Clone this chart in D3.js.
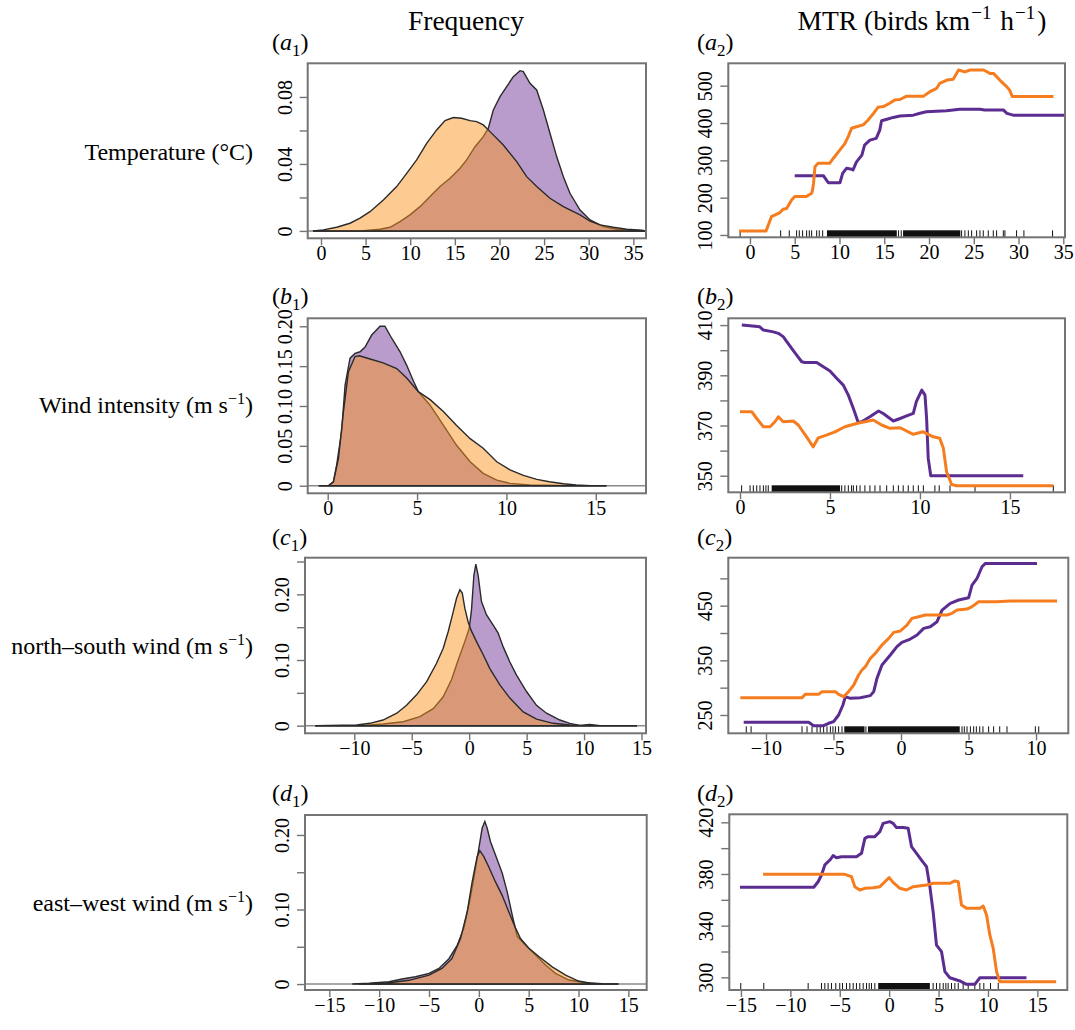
<!DOCTYPE html>
<html>
<head>
<meta charset="utf-8">
<title>Frequency and MTR partial dependence</title>
<script src="https://cdn.jsdelivr.net/npm/d3@7"></script>
<style>
  body { margin: 0; background: #fff; }
  text { font-family: "Liberation Serif", "Times New Roman", serif; fill: #000; }
</style>
</head>
<body>
<svg id="fig" width="1075" height="1030"></svg>
<script>
// ---- data ----
// left column: density curves [x, density]
var freqTempOrange = [[-0.9,0],[0.26,0.0006],[1.76,0.0022],[3.25,0.0046],[4.37,0.0076],[5.49,0.0115],[6.99,0.0185],[8.48,0.0265],[9.6,0.0344],[10.72,0.0424],[11.84,0.0523],[12.96,0.0603],[13.9,0.0659],[14.83,0.0677],[15.76,0.0673],[16.7,0.0659],[17.44,0.0653],[18.19,0.0633],[18.94,0.0593],[20.43,0.0513],[21.93,0.0414],[23.05,0.0324],[24.17,0.0265],[25.66,0.0195],[27.16,0.0145],[29.03,0.0096],[30.15,0.0058],[31.27,0.0036],[32.76,0.0022],[34.26,0.001],[35.94,0.0004],[36.4,0]];
var freqTempPurple = [[-0.9,0],[4.74,0.0002],[6.61,0.001],[7.73,0.0022],[8.85,0.0056],[9.97,0.0096],[11.09,0.0145],[12.22,0.0205],[13.34,0.0265],[14.46,0.0314],[15.58,0.0374],[16.32,0.0424],[17.26,0.0503],[18.19,0.0563],[18.75,0.0613],[19.31,0.0722],[20.06,0.0802],[20.81,0.0862],[21.55,0.0921],[22.3,0.0957],[22.67,0.0951],[23.42,0.0882],[24.17,0.0842],[24.92,0.0722],[25.66,0.0583],[26.41,0.0444],[27.16,0.0324],[27.9,0.0225],[29.03,0.0125],[30.15,0.0066],[31.64,0.0026],[33.13,0.001],[34.63,0.0004],[36.4,0]];

var freqWindOrange = [[-0.5,0],[0.04,0],[0.32,0.005],[0.6,0.034],[0.88,0.093],[1.16,0.143],[1.53,0.162],[1.77,0.163],[2.37,0.159],[3.1,0.154],[3.86,0.147],[4.42,0.135],[5.07,0.118],[5.73,0.108],[6.47,0.093],[7.2,0.076],[7.97,0.059],[8.7,0.047],[9.46,0.03],[10.2,0.02],[10.95,0.013],[11.7,0.008],[12.4,0.005],[13.2,0.0025],[13.9,0.001],[14.7,0],[15.6,0]];
var freqWindPurple = [[-0.5,0],[0.04,0],[0.32,0.005],[0.5,0.026],[0.78,0.068],[0.97,0.126],[1.25,0.16],[1.53,0.166],[1.81,0.168],[2.09,0.174],[2.46,0.189],[2.93,0.2],[3.2,0.2],[3.58,0.185],[4.05,0.168],[4.42,0.151],[4.8,0.131],[5.07,0.118],[5.73,0.101],[6.47,0.076],[7.2,0.051],[7.97,0.03],[8.7,0.0155],[9.46,0.007],[10.2,0.003],[11.3,0.001],[13.6,0],[15.6,0]];

var freqNsOrange = [[-13.4,0],[-9.8,0.001],[-8.64,0.0036],[-7.5,0.0086],[-6.3,0.019],[-5.45,0.031],[-4.58,0.047],[-3.7,0.067],[-2.84,0.095],[-2.26,0.118],[-1.83,0.143],[-1.45,0.169],[-1.1,0.194],[-0.81,0.207],[-0.6,0.202],[-0.38,0.179],[-0.09,0.158],[0.2,0.144],[0.64,0.128],[1.22,0.108],[1.8,0.087],[2.67,0.062],[3.54,0.042],[4.7,0.021],[5.86,0.01],[7.3,0.0036],[8.76,0.001],[9.9,0],[14.6,0]];
var freqNsPurple = [[-13.4,0],[-9.2,0.0005],[-7.5,0.0025],[-5.74,0.006],[-4.29,0.0137],[-3.13,0.026],[-2.26,0.044],[-1.54,0.07],[-0.96,0.1],[-0.38,0.128],[0,0.148],[0.2,0.176],[0.41,0.229],[0.58,0.246],[0.78,0.229],[1.07,0.189],[1.5,0.169],[2.09,0.153],[2.52,0.141],[2.96,0.12],[3.54,0.097],[4.12,0.077],[4.99,0.052],[5.86,0.031],[6.73,0.019],[7.9,0.0086],[8.76,0.0036],[9.63,0.0005],[10.5,0.002],[11.4,0],[14.6,0]];

var freqEwOrange = [[-12,0],[-9.4,0.001],[-7,0.005],[-5,0.012],[-3.7,0.021],[-2.7,0.034],[-1.84,0.061],[-1.17,0.097],[-0.67,0.137],[-0.17,0.171],[0.1,0.179],[0.5,0.171],[1,0.157],[1.67,0.137],[2.34,0.119],[3,0.097],[3.68,0.075],[4.18,0.061],[5.02,0.048],[6.02,0.037],[7.36,0.023],[8.7,0.012],[10,0.004],[11.2,0.001],[12,0],[14,0]];
var freqEwPurple = [[-12.7,0],[-11,0.001],[-9,0.003],[-7.7,0.0067],[-6.35,0.0098],[-5,0.0143],[-4,0.021],[-3,0.034],[-2.17,0.052],[-1.5,0.075],[-1,0.106],[-0.5,0.142],[0,0.182],[0.33,0.209],[0.6,0.218],[0.84,0.209],[1.17,0.191],[1.67,0.173],[2.34,0.149],[2.84,0.124],[3.34,0.093],[3.85,0.064],[4.68,0.052],[5.69,0.039],[6.69,0.0255],[7.7,0.0143],[9.03,0.0054],[10.7,0.0018],[12.4,0.0004],[14,0]];

// right column: MTR response [x, birds km-1 h-1]
var mtrTempOrange = [[-1.2,111],[1.8,111],[2.4,149],[3.35,160],[3.7,169],[4.1,171],[4.65,194],[5.0,203],[6.3,203],[6.9,212],[7.0,222],[7.1,238],[7.26,283],[7.6,292],[8.9,292],[9.3,305],[10.05,328],[10.6,345],[11.0,365],[11.35,386],[11.9,390],[12.65,395],[13.2,408],[13.8,426],[14.3,442],[14.9,444],[15.6,453],[16.2,462],[16.75,463],[17.5,472],[19.4,472],[20.1,484],[20.85,493],[21.2,506],[22.0,515],[22.7,517],[23.3,542],[24.0,537],[24.6,542],[26.1,542],[26.8,533],[27.2,533],[27.9,515],[28.7,497],[29.0,488],[29.3,471],[33.9,471]];
var mtrTempPurple = [[5.0,259],[8.2,259],[8.75,240],[10.05,240],[10.35,265],[10.8,279],[11.35,276],[11.5,274],[11.9,296],[12.5,314],[12.8,341],[13.4,354],[14.1,359],[14.5,381],[14.7,406],[15.3,410],[16.0,415],[16.75,419],[18.25,421],[19.0,426],[19.7,430],[21.95,433],[22.7,435],[23.4,437],[25.7,437],[26.2,435],[28.3,435],[28.7,426],[29.4,421],[35.2,421]];

var mtrWindOrange = [[0,375.5],[0.65,375.5],[0.93,372.8],[1.3,369.5],[1.67,369.5],[1.94,371.5],[2.13,373.5],[2.4,371.5],[2.96,371.8],[3.24,370.2],[3.7,365.5],[4.07,361.5],[4.35,365.1],[4.8,366.2],[5.28,367.5],[5.83,369.5],[6.48,370.8],[7.4,372.2],[7.87,370.2],[8.33,368.9],[8.9,369.1],[9.63,366.5],[10.18,367.5],[10.74,365.5],[11.1,364.9],[11.3,360.9],[11.48,351.6],[11.76,346.5],[12.04,346],[17.4,346]];
var mtrWindPurple = [[0.1,410],[0.55,409.7],[1.1,409.3],[1.3,408],[1.85,407.3],[2.13,406.7],[2.4,405.4],[2.6,403.4],[2.87,400.7],[3.15,398],[3.43,395.4],[3.6,395.1],[4.26,395.1],[4.63,393.4],[5.0,391.7],[5.37,388.8],[5.74,386.1],[6.02,382.1],[6.3,376.8],[6.57,371.2],[6.76,371.5],[7.22,373.5],[7.7,375.8],[7.96,374.8],[8.52,371.8],[8.9,372.8],[9.26,373.8],[9.63,374.8],[9.8,379.5],[10.1,384.1],[10.28,382.1],[10.37,372.8],[10.46,356.9],[10.6,350],[15.74,350]];

var mtrNsOrange = [[-11.9,281.7],[-7.33,281.7],[-7.09,287.8],[-6.1,287.8],[-5.85,292.7],[-4.86,292.7],[-4.62,287.8],[-4.25,283.5],[-3.88,292.7],[-3.5,304.9],[-3.14,323.2],[-2.89,332.3],[-2.64,338.4],[-2.27,353.7],[-1.9,362.8],[-1.41,378],[-0.91,390.2],[-0.54,401.2],[-0.05,403.7],[0.44,414.6],[0.81,426.8],[1.31,429.9],[1.8,432.9],[3.4,432.9],[3.78,436],[4.15,442],[4.89,443.9],[5.26,448.2],[5.75,457.3],[7.1,457.3],[8.1,458.5],[11.56,458.5]];
var mtrNsPurple = [[-11.65,236.6],[-6.84,236.6],[-6.47,230.5],[-5.73,230.5],[-5.36,234.8],[-4.99,237.8],[-4.62,250],[-4.3,268.3],[-4.12,283.5],[-3.75,280.5],[-3.01,281.7],[-2.27,285.4],[-2.02,292.7],[-1.78,317],[-1.41,341.5],[-0.79,359.8],[-0.3,375],[0.07,383],[0.69,389],[1.19,396.3],[1.68,408.5],[2.17,411.6],[2.67,420.7],[3.04,442],[3.65,454.3],[4.27,460.4],[5.01,464.6],[5.26,487.8],[5.63,500],[6.0,521.3],[6.25,527.4],[10.07,527.4]];

var mtrEwOrange = [[-12.76,379.7],[-4.49,379.7],[-3.81,377.9],[-3.48,370.2],[-2.97,367.6],[-2.46,368.9],[-1.62,369.4],[-0.94,370.2],[-0.44,374],[0,377.2],[0.4,373.5],[1.08,368.9],[1.75,367.6],[2.43,370.2],[3.78,371.5],[4.45,372.8],[6.14,372.8],[6.65,374.6],[6.99,374],[7.32,356],[7.83,353.4],[9.18,353.4],[9.52,355.2],[9.86,348.3],[10.19,332.8],[10.53,322.5],[10.87,304.4],[11.2,296.6],[16.9,296.6]];
var mtrEwPurple = [[-15.1,369.7],[-7.63,369.7],[-7.19,374],[-6.85,379.2],[-6.51,387],[-6.0,390.8],[-5.67,394.2],[-5.33,392.6],[-4.83,393.4],[-3.31,393.4],[-2.8,396],[-2.46,407.6],[-2.13,408.9],[-1.45,408.9],[-0.94,412.8],[-0.61,419.2],[0.07,420.5],[0.4,419.2],[0.74,415.9],[1.42,415.9],[1.92,415.4],[2.26,401.2],[2.77,396],[3.27,390.8],[3.78,385.7],[4.12,370.2],[4.45,350.8],[4.79,325],[5.3,319.9],[5.64,304.4],[6.14,299.7],[7.15,297.2],[7.83,294.6],[8.67,294.6],[9.18,299.7],[13.9,299.7]];

// rug marks: single observations and solid dense stretches
var rugTemp = [-1.1,3.43,4.39,5.21,5.51,5.88,6.33,6.63,6.89,7.45,7.74,8.12,16.6,16.9,23.64,24.01,24.39,24.76,25.32,25.69,26.06,26.62,27.18,27.55,28.3,28.48,29.78,30.6,33.8];
var rugTempDense = [[8.6,16.4],[17.1,23.5]];
var rugWind = [0.09,0.56,0.74,0.93,1.11,1.3,1.44,1.57,5.65,5.83,6.02,6.2,6.3,6.48,6.67,6.94,7.22,7.5,7.78,8.15,8.52,8.8,9.07,9.35,9.63,9.91,10.19,10.83,11.07,11.67,13.06,17.41];
var rugWindDense = [[1.76,5.56]];
var rugNs = [-11.46,-11.1,-7.33,-6.96,-6.59,-6.22,-5.98,-5.73,-5.48,-5.23,-5.04,-4.86,-4.62,-4.37,-2.6,4.52,4.69,4.89,5.14,5.38,5.58,5.83,6.07,6.49,6.86,7.31,7.85,9.95,10.2];
var rugNsDense = [[-4.2,-2.7],[-2.45,4.35]];
var rugEw = [-15.02,-12.69,-8.2,-6.85,-6.51,-6.18,-5.84,-5.4,-5.0,-4.72,-4.32,-3.98,-3.64,-3.31,-2.97,-2.63,-2.29,-2.02,-1.79,-1.45,4.45,4.79,5.13,5.47,5.74,5.97,6.31,6.65,6.99,7.49,8.0,8.67,9.18,9.58,10.26,11.04];
var rugEwDense = [[-1.11,4.12]];

// tick values and labels
var ticksTempX = [0,5,10,15,20,25,30,35];
var ticksWindX = [0,5,10,15];
var ticksNsFreqX = [-10,-5,0,5,10,15];
var ticksNsMtrX = [-10,-5,0,5,10];
var ticksEwX = [-15,-10,-5,0,5,10,15];

var ticksFreqTempY = [0,0.02,0.04,0.06,0.08];
var labelsFreqTempY = ["0","","0.04","","0.08"];
var ticksFreqWindY = [0,0.05,0.10,0.15,0.20];
var labelsFreqWindY = ["0","0.05","0.10","0.15","0.20"];
var ticksFreqNsY = [0,0.05,0.10,0.15,0.20,0.25];
var labelsFreqNsY = ["0","","0.10","","0.20",""];
var ticksFreqEwY = [0,0.05,0.10,0.15,0.20];
var labelsFreqEwY = ["0","","0.10","","0.20"];

var ticksMtrTempY = [100,200,300,400,500];
var labelsMtrTempY = ["100","200","300","400","500"];
var ticksMtrWindY = [350,360,370,380,390,400,410];
var labelsMtrWindY = ["350","","370","","390","","410"];
var ticksMtrNsY = [250,300,350,400,450,500];
var labelsMtrNsY = ["250","","350","","450",""];
var ticksMtrEwY = [300,320,340,360,380,400,420];
var labelsMtrEwY = ["300","","340","","380","","420"];

var rowNames = ["Temperature (\u00B0C)", "Wind intensity (m s", "north\u2013south wind (m s", "east\u2013west wind (m s"];
var rowLetters = ["a", "b", "c", "d"];

// ---- drawing ----
var svg = d3.select("#fig");
var serif = "'Liberation Serif', 'Times New Roman', serif";
var boxColor = "#747474";
var purpleFill = "#b99bcc", orangeFill = "#fb941f";
var purpleLine = "#5c2d91", orangeLine = "#f57d1f";

function fmtX(d) { return d < 0 ? "\u2212" + Math.abs(d) : String(d); }

function frame(p, id) {
    var x = d3.scaleLinear().domain(p.xDom).range([p.left, p.right]);
    var y = d3.scaleLinear().domain(p.yDom).range([p.bottom, p.top]);
    var g = svg.append("g");
    g.append("clipPath").attr("id", id)
        .append("rect")
        .attr("x", p.left).attr("y", p.top)
        .attr("width", p.right - p.left).attr("height", p.bottom - p.top);
    return {x: x, y: y, g: g, clip: "url(#" + id + ")"};
}

function axes(f, p) {
    var ax = f.g.append("g")
        .attr("transform", "translate(0," + p.bottom + ")")
        .call(d3.axisBottom(f.x).tickValues(p.xTicks).tickSize(7).tickPadding(1).tickFormat(fmtX))
        .attr("font-family", serif).attr("font-size", 20);
    ax.select(".domain").remove();
    ax.selectAll("line").attr("stroke", boxColor).attr("stroke-width", 1.4);
    ax.selectAll("text").attr("fill", "#000");

    var ay = f.g.append("g")
        .attr("transform", "translate(" + p.left + ",0)")
        .call(d3.axisLeft(f.y).tickValues(p.yTicks).tickSize(8)
            .tickFormat(function(d, i) { return p.yLabels[i]; }))
        .attr("font-family", serif).attr("font-size", 20);
    ay.select(".domain").remove();
    ay.selectAll("line").attr("stroke", boxColor).attr("stroke-width", 1.4);
    ay.selectAll("text")
        .attr("fill", "#000")
        .attr("x", null).attr("dy", null)
        .attr("text-anchor", "middle")
        .attr("transform", "translate(-16,0) rotate(-90)");

    f.g.append("rect")
        .attr("x", p.left).attr("y", p.top)
        .attr("width", p.right - p.left).attr("height", p.bottom - p.top)
        .attr("fill", "none").attr("stroke", boxColor).attr("stroke-width", 2);
}

function drawDensity(p, id) {
    var f = frame(p, id);
    var area = d3.area()
        .x(function(d) { return f.x(d[0]); })
        .y0(f.y(0))
        .y1(function(d) { return f.y(d[1]); });
    var inner = f.g.append("g").attr("clip-path", f.clip);
    inner.append("line")
        .attr("x1", p.left).attr("x2", p.right)
        .attr("y1", f.y(0)).attr("y2", f.y(0))
        .attr("stroke", "#8a8a8a").attr("stroke-width", 1.6);
    inner.append("path").datum(p.purple).attr("d", area)
        .attr("fill", purpleFill).attr("stroke", "#2a2a2a").attr("stroke-width", 1.4);
    inner.append("path").datum(p.orange).attr("d", area)
        .attr("fill", orangeFill).attr("fill-opacity", 0.49)
        .attr("stroke", "#2a2a2a").attr("stroke-width", 1.4);
    axes(f, p);
}

function drawMtr(p, id) {
    var f = frame(p, id);
    var line = d3.line()
        .x(function(d) { return f.x(d[0]); })
        .y(function(d) { return f.y(d[1]); });
    var inner = f.g.append("g").attr("clip-path", f.clip);
    inner.selectAll("line.rug").data(p.rug).enter().append("line")
        .attr("x1", function(d) { return f.x(d); })
        .attr("x2", function(d) { return f.x(d); })
        .attr("y1", p.bottom).attr("y2", p.bottom - 7)
        .attr("stroke", "#111").attr("stroke-width", 1);
    inner.selectAll("rect.rug").data(p.dense).enter().append("rect")
        .attr("x", function(d) { return f.x(d[0]); })
        .attr("width", function(d) { return f.x(d[1]) - f.x(d[0]); })
        .attr("y", p.bottom - 7).attr("height", 7)
        .attr("fill", "#111");
    inner.append("path").datum(p.purple).attr("d", line)
        .attr("fill", "none").attr("stroke", purpleLine)
        .attr("stroke-width", 3).attr("stroke-linejoin", "round");
    inner.append("path").datum(p.orange).attr("d", line)
        .attr("fill", "none").attr("stroke", orangeLine)
        .attr("stroke-width", 3).attr("stroke-linejoin", "round");
    axes(f, p);
}

var left = [
    {left: 307.7, right: 646, top: 63.3, bottom: 238.3, xDom: [-1.49, 36.42], yDom: [-0.0044, 0.1001],
     xTicks: ticksTempX, yTicks: ticksFreqTempY, yLabels: labelsFreqTempY, orange: freqTempOrange, purple: freqTempPurple},
    {left: 307.7, right: 646, top: 318.3, bottom: 493.3, xDom: [-1.12, 17.81], yDom: [-0.0095, 0.21],
     xTicks: ticksWindX, yTicks: ticksFreqWindY, yLabels: labelsFreqWindY, orange: freqWindOrange, purple: freqWindPurple},
    {left: 305, right: 646, top: 557.7, bottom: 733.3, xDom: [-14.29, 15.39], yDom: [-0.0116, 0.2558],
     xTicks: ticksNsFreqX, yTicks: ticksFreqNsY, yLabels: labelsFreqNsY, orange: freqNsOrange, purple: freqNsPurple},
    {left: 305, right: 646.7, top: 815, bottom: 990, xDom: [-17.44, 16.84], yDom: [-0.008, 0.2268],
     xTicks: ticksEwX, yTicks: ticksFreqEwY, yLabels: labelsFreqEwY, orange: freqEwOrange, purple: freqEwPurple}
];
var right = [
    {left: 728.3, right: 1065, top: 63.3, bottom: 237.3, xDom: [-2.42, 35.19], yDom: [93.8, 560],
     xTicks: ticksTempX, yTicks: ticksMtrTempY, yLabels: labelsMtrTempY, orange: mtrTempOrange, purple: mtrTempPurple,
     rug: rugTemp, dense: rugTempDense},
    {left: 728.3, right: 1065, top: 318.3, bottom: 492.3, xDom: [-0.65, 18.06], yDom: [343.4, 412.7],
     xTicks: ticksWindX, yTicks: ticksMtrWindY, yLabels: labelsMtrWindY, orange: mtrWindOrange, purple: mtrWindPurple,
     rug: rugWind, dense: rugWindDense},
    {left: 728.3, right: 1068.3, top: 557.7, bottom: 733.3, xDom: [-12.79, 12.39], yDom: [216.5, 537.8],
     xTicks: ticksNsMtrX, yTicks: ticksMtrNsY, yLabels: labelsMtrNsY, orange: mtrNsOrange, purple: mtrNsPurple,
     rug: rugNs, dense: rugNsDense},
    {left: 729.3, right: 1067.3, top: 814.3, bottom: 990, xDom: [-16.18, 18.03], yDom: [290.2, 426.2],
     xTicks: ticksEwX, yTicks: ticksMtrEwY, yLabels: labelsMtrEwY, orange: mtrEwOrange, purple: mtrEwPurple,
     rug: rugEw, dense: rugEwDense}
];

left.forEach(function(p, i) { drawDensity(p, "clipL" + i); });
right.forEach(function(p, i) { drawMtr(p, "clipR" + i); });

// panel letters like (a1), (a2)
var letterY = [50, 304, 545, 801];
function panelLetter(x, y, letter, n) {
    var t = svg.append("text").attr("x", x).attr("y", y).attr("font-size", 24);
    t.append("tspan").text("(");
    t.append("tspan").attr("font-style", "italic").text(letter);
    t.append("tspan").attr("font-size", 17).attr("dy", 6).text(n);
    t.append("tspan").attr("dy", -6).text(")");
}
rowLetters.forEach(function(l, i) {
    panelLetter(272, letterY[i], l, "1");
    panelLetter(697, letterY[i], l, "2");
});

// row labels
var rowY = [160, 413, 654, 911];
rowNames.forEach(function(name, i) {
    var t = svg.append("text").attr("x", 253).attr("y", rowY[i])
        .attr("font-size", 24).attr("text-anchor", "end");
    t.append("tspan").text(name);
    if (i > 0) {
        t.append("tspan").attr("font-size", 16).attr("dy", -9).text("\u22121");
        t.append("tspan").attr("dy", 9).text(")");
    }
});

// column titles
svg.append("text").attr("x", 466).attr("y", 30).attr("font-size", 27.5)
    .attr("text-anchor", "middle").text("Frequency");
var mt = svg.append("text").attr("x", 922).attr("y", 30).attr("font-size", 27.5)
    .attr("text-anchor", "middle");
mt.append("tspan").text("MTR (birds km");
mt.append("tspan").attr("font-size", 19).attr("dy", -11).attr("dx", 1).text("\u22121");
mt.append("tspan").attr("dy", 11).attr("dx", 2).text(" h");
mt.append("tspan").attr("font-size", 19).attr("dy", -11).attr("dx", 1).text("\u22121");
mt.append("tspan").attr("dy", 11).attr("dx", 2).text(")");
</script>
</body>
</html>
